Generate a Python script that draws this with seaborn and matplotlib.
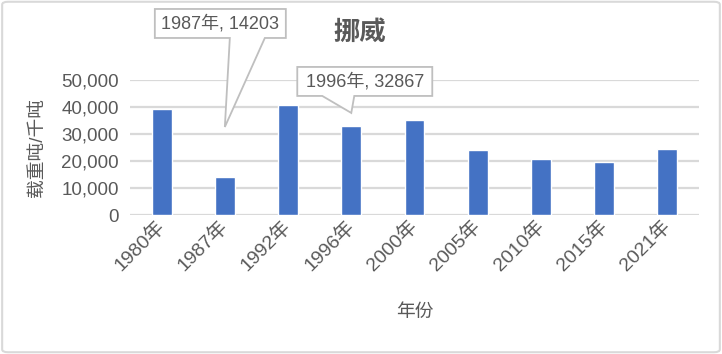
import numpy as np
import pandas as pd
import matplotlib
matplotlib.use("Agg")
import matplotlib.pyplot as plt
import matplotlib.transforms as mtransforms
from matplotlib.patches import Polygon, FancyBboxPatch
from matplotlib.ticker import FuncFormatter
import seaborn as sns

# Data
years = ["1980年", "1987年", "1992年", "1996年", "2000年", "2005年", "2010年", "2015年", "2021年"]
tonnage = [39300, 14203, 40800, 32867, 35300, 24200, 20800, 19700, 24500]

# Callouts: category index, label, height of the pointer tip
callout_idx = [1, 3]
callout_text = ["1987年, 14203", "1996年, 32867"]
callout_tip = [32600, 37800]

TEXT = "#595959"
GRID = "#D9D9D9"
BAR = "#4472C4"

sns.set_theme(style="white")
plt.rcParams["font.family"] = ["Liberation Sans", "Noto Sans CJK SC", "DejaVu Sans"]

df = pd.DataFrame({"year": years, "tonnage": tonnage})

fig = plt.figure(figsize=(7.22, 3.54), dpi=100)
ax = fig.add_axes([130 / 722, 1 - 215 / 354, 569 / 722, 135 / 354])

sns.barplot(data=df, x="year", y="tonnage", color=BAR, saturation=1, width=0.316, ax=ax, zorder=3)

ax.set_ylim(0, 50000)
ax.set_yticks(range(0, 50001, 10000))
ax.set_xlim(-0.5, len(years) - 0.5)
ax.yaxis.set_major_formatter(FuncFormatter(lambda v, p: f"{v:,.0f}"))
ax.grid(axis="y", color=GRID, lw=1.6, zorder=0)
ax.grid(axis="x", visible=False)
for s in ax.spines.values():
    s.set_visible(False)
ax.tick_params(axis="both", length=0, colors=TEXT, labelsize=13.5)
ax.tick_params(axis="x", labelsize=14, pad=6)
ax.tick_params(axis="y", pad=8)
for lab in ax.get_xticklabels():
    lab.set_rotation(45)
    lab.set_ha("right")
    lab.set_va("center")
    lab.set_rotation_mode("anchor")

ax.set_xlabel("年份", color=TEXT, fontsize=13.5)
ax.xaxis.set_label_coords(0.5, -0.66)
ax.set_ylabel("载重吨/千吨", color=TEXT, fontsize=13.5)
ax.yaxis.label.set_va("center")
ax.yaxis.set_label_coords(-0.162, 0.5)

fig.text(360 / 722, 1 - 32 / 354, "挪威", ha="center", va="center",
         fontsize=19, fontweight="bold", color=TEXT)

# callout shapes, in pixels relative to the tip (y up)
shapes = [
    dict(box=(-70, 61, 89, 118), base=(5, 40)),
    dict(box=(-54, 81, 17, 46), base=(-29, 3)),
]
for i, txt, tip, shp in zip(callout_idx, callout_text, callout_tip, shapes):
    trans = fig.dpi_scale_trans + mtransforms.ScaledTranslation(i, tip, ax.transData)
    x0, x1, y0, y1 = shp["box"]
    b0, b1 = shp["base"]
    pts = np.array([(0, 0), (b1, y0), (x1, y0), (x1, y1), (x0, y1), (x0, y0), (b0, y0)]) / 100
    ax.add_patch(Polygon(pts, closed=True, transform=trans, fc="white", ec="#BFBFBF",
                         lw=1.3, zorder=5, clip_on=False))
    ax.text((x0 + x1) / 200, (y0 + y1) / 200, txt, transform=trans, ha="center", va="center",
            fontsize=13, color=TEXT, zorder=6)

# outer border
fig.patches.append(FancyBboxPatch((0.003, 0.005), 0.994, 0.99, boxstyle="round,pad=0,rounding_size=0.008",
                                  transform=fig.transFigure, fc="none", ec=GRID, lw=1.5))

fig.savefig("out.png", dpi=100)
